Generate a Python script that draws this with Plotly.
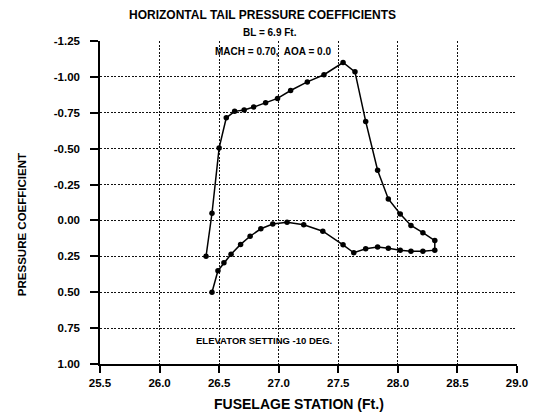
import plotly.graph_objects as go

# Upper (suction) surface: fuselage station (ft) and pressure coefficient
upper_x = [26.39, 26.44, 26.50, 26.56, 26.63, 26.71, 26.79, 26.89, 26.99, 27.10,
           27.24, 27.38, 27.54, 27.64, 27.73, 27.83, 27.92, 28.02, 28.11, 28.21, 28.31]
upper_cp = [0.25, -0.05, -0.505, -0.715, -0.76, -0.77, -0.79, -0.82, -0.85, -0.905,
            -0.965, -1.015, -1.10, -1.035, -0.69, -0.35, -0.15, -0.045, 0.035, 0.085, 0.14]

# Lower (pressure) surface
lower_x = [26.44, 26.49, 26.54, 26.60, 26.68, 26.76, 26.85, 26.95, 27.07, 27.21,
           27.37, 27.54, 27.63, 27.73, 27.83, 27.92, 28.02, 28.11, 28.21, 28.31]
lower_cp = [0.50, 0.35, 0.295, 0.235, 0.167, 0.11, 0.058, 0.025, 0.012, 0.03,
            0.075, 0.17, 0.225, 0.197, 0.185, 0.193, 0.207, 0.214, 0.214, 0.207]

x_ticks = [25.5, 26.0, 26.5, 27.0, 27.5, 28.0, 28.5, 29.0]
y_ticks = [-1.25, -1.00, -0.75, -0.50, -0.25, 0.00, 0.25, 0.50, 0.75, 1.00]

# one continuous path: upper surface LE->TE, then lower surface TE->LE
path_x = upper_x + lower_x[::-1]
path_cp = upper_cp + lower_cp[::-1]

FONT = "Liberation Sans, Arial, sans-serif"

fig = go.Figure()
fig.add_trace(go.Scatter(
    x=path_x, y=path_cp, mode="lines+markers",
    line=dict(color="black", width=1.5),
    marker=dict(color="black", size=5.5),
    showlegend=False,
))

grid = dict(showgrid=True, gridcolor="#111111", gridwidth=1.3, griddash="2px,1.5px")

fig.update_xaxes(
    range=[25.5, 29.0], tickvals=x_ticks, ticktext=[f"{v:.1f}" for v in x_ticks],
    showline=True, linecolor="black", linewidth=2,
    ticks="outside", ticklen=7, tickwidth=1.5, tickcolor="black",
    tickfont=dict(family=FONT, size=11.5, color="black", weight="bold"),
    zeroline=False, **grid,
)
fig.update_yaxes(
    range=[1.0, -1.25], tickvals=y_ticks, ticktext=[f"{v:.2f}" for v in y_ticks],
    showline=True, linecolor="black", linewidth=1.5,
    ticks="outside", ticklen=8, tickwidth=1.5, tickcolor="black",
    tickfont=dict(family=FONT, size=11.5, color="black", weight="bold"),
    ticklabelstandoff=8,
    zeroline=False, **grid,
)

def note(text, x, y, size, angle=0):
    fig.add_annotation(
        text=f"<b>{text}</b>", x=x, y=y, xref="paper", yref="paper",
        xanchor="center", yanchor="middle", showarrow=False, textangle=angle,
        font=dict(family=FONT, size=size, color="black"),
    )

note("HORIZONTAL TAIL PRESSURE COEFFICIENTS", 0.3885, 1.0805, 12)
note("BL = 6.9 Ft.", 0.4077, 1.0248, 10)
note("MACH = 0.70,&nbsp; AOA = 0.0", 0.4149, 0.966, 10)
note("ELEVATOR SETTING -10 DEG.", 0.393, 0.0743, 9.5)
note("FUSELAGE STATION (Ft.)", 0.477, -0.124, 14)
note("PRESSURE COEFFICIENT", -0.187, 0.43, 11.5, angle=-90)

fig.update_layout(
    width=539, height=416, autosize=False,
    margin=dict(l=100, r=22, t=41, b=52),
    paper_bgcolor="white", plot_bgcolor="white",
    font=dict(family=FONT, color="black"),
)

fig.write_html("out.html", config={"displayModeBar": False},
               post_script="document.body.style.margin='0px';")
